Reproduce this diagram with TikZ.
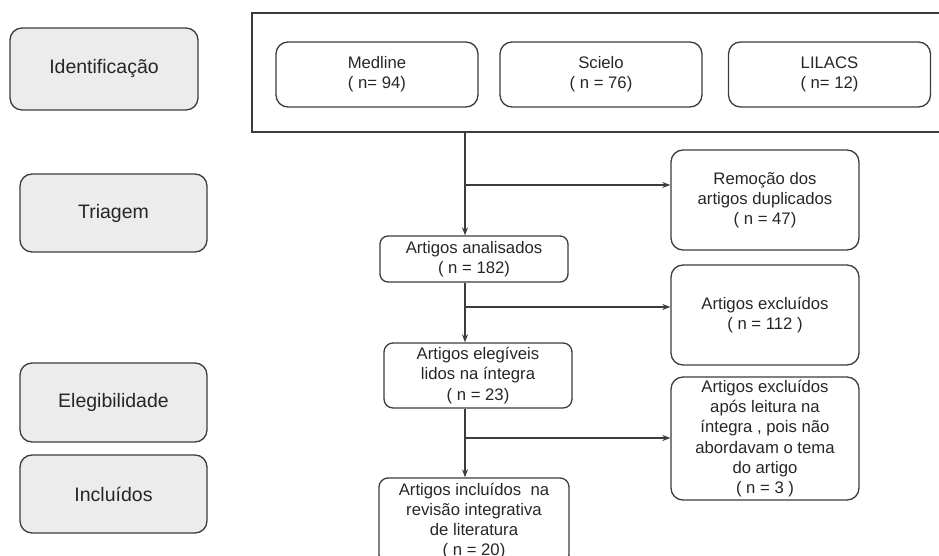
\documentclass[tikz,border=0pt]{standalone}
\usepackage{fontspec}
\setmainfont{Liberation Sans}
\usetikzlibrary{arrows.meta}
\definecolor{fasecinza}{RGB}{236,236,236}
\definecolor{linha}{RGB}{60,60,60}
\begin{document}
\begin{tikzpicture}[x=1pt,y=-1pt,>={Stealth[length=8pt,width=6pt]},
    font=\fontsize{16.7}{20.2}\selectfont,text=black!85,
    fase/.style={draw=linha,line width=1.3pt,fill=fasecinza,rounded corners=12pt,
        minimum width=187pt,font=\fontsize{19.5}{23}\selectfont},
    caixa/.style={draw=linha,line width=1.3pt,rounded corners=12pt,align=center,inner sep=0pt},
    seta/.style={->,draw=linha,line width=1.3pt}]
\useasboundingbox (0,0) rectangle (939,556);
% fases
\node[fase,minimum width=188pt,minimum height=82pt] (ident) at (104,69) {Identificação};
\node[fase,minimum height=78pt] (triagem) at (113.5,213) {Triagem};
\node[fase,minimum height=79pt] (elegib) at (113.5,402.5) {Elegibilidade};
\node[fase,minimum height=78pt] (inclu) at (113.5,494) {Incluídos};
% bases de dados
\node[draw=linha,line width=1.3pt,minimum width=708pt,minimum height=119pt] (busca) at (606,72.5) {};
\foreach \nome/\px/\rotulo in {medline/377/{Medline\\( n= 94)},scielo/601/{Scielo\\( n = 76)},lilacs/829.5/{LILACS\\( n= 12)}}
    \node[caixa,minimum width=202pt,minimum height=65pt] (\nome) at (\px,74.5) {\rotulo};
% fluxo
\node[caixa,minimum width=188pt,minimum height=46pt,rounded corners=8pt] (analisados) at (474,259) {Artigos analisados\\( n = 182)};
\node[caixa,minimum width=188pt,minimum height=65pt,rounded corners=9pt] (elegiveis) at (478,375.5) {Artigos elegíveis\\lidos na íntegra\\( n = 23)};
\node[caixa,minimum width=190pt,minimum height=86pt,rounded corners=9pt] (incluidos) at (474,521) {Artigos incluídos\ \ na\\revisão integrativa\\de literatura\\( n = 20)};
\node[caixa,minimum width=188pt,minimum height=100pt] (remocao) at (765,200) {Remoção dos\\artigos duplicados\\( n = 47)};
\node[caixa,minimum width=188pt,minimum height=100pt] (excluidos) at (765,315) {Artigos excluídos\\( n = 112 )};
\node[caixa,minimum width=188pt,minimum height=123pt] (apos) at (765,438.5) {Artigos excluídos\\após leitura na\\íntegra , pois não\\abordavam o tema\\do artigo\\( n = 3 )};
% conectores
\coordinate (tronco) at (465,0);
\coordinate (r1) at (465,185);
\coordinate (r2) at (465,307);
\coordinate (r3) at (465,438);
\draw[seta] (busca.south -| tronco) -- (analisados.north -| tronco);
\draw[seta] (analisados.south -| tronco) -- (elegiveis.north -| tronco);
\draw[seta] (elegiveis.south -| tronco) -- (incluidos.north -| tronco);
\draw[seta] (r1) -- (r1 -| remocao.west);
\draw[seta] (r2) -- (r2 -| excluidos.west);
\draw[seta] (r3) -- (r3 -| apos.west);
\end{tikzpicture}
\end{document}
